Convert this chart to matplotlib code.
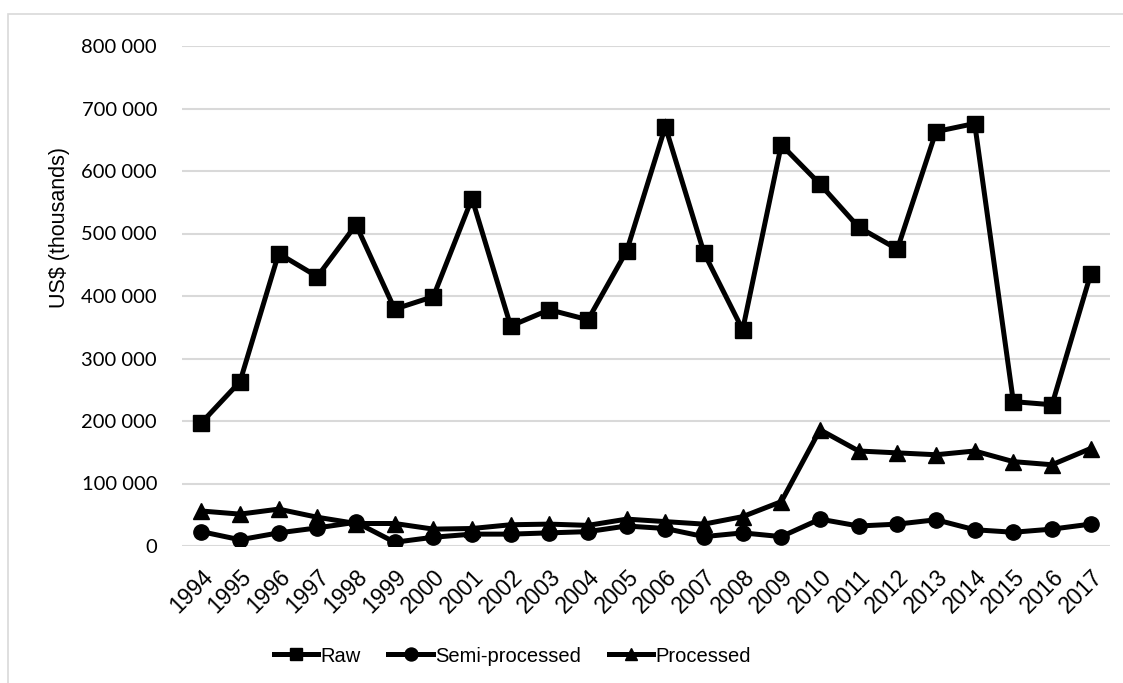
import matplotlib
matplotlib.use("Agg")
import matplotlib.pyplot as plt
from matplotlib.patches import Rectangle
from matplotlib import font_manager

years = [str(y) for y in range(1994, 2018)]
raw = [197000, 263000, 468000, 431000, 514000, 379000, 399000, 556000,
       352000, 378000, 362000, 472000, 671000, 469000, 346000, 642000,
       579000, 510000, 475000, 663000, 676000, 231000, 226000, 435000]
semi = [23000, 10000, 21000, 29000, 38000, 6000, 14000, 19000,
        19000, 21000, 23000, 32000, 28000, 15000, 21000, 15000,
        43000, 32000, 35000, 42000, 26000, 22000, 27000, 35000]
processed = [56000, 51000, 59000, 46000, 36000, 36000, 27000, 28000,
             34000, 35000, 33000, 43000, 39000, 35000, 47000, 71000,
             186000, 152000, 149000, 146000, 152000, 135000, 130000, 156000]
y_ticks = list(range(0, 800001, 100000))

names = {f.name for f in font_manager.fontManager.ttflist}
sans = "Liberation Sans"
tick_font = "Lato" if "Lato" in names else sans

fig = plt.figure(figsize=(11.23, 6.83), dpi=100)
ax = fig.add_axes([182 / 1123, 1 - 546 / 683, (1110 - 182) / 1123, (546 - 46) / 683])

# light frame around the whole chart
fig.patches.append(Rectangle((8 / 1123, -0.05), 1.2, 1 - 14 / 683 + 0.05,
                             transform=fig.transFigure, fill=False,
                             edgecolor="#d9d9d9", linewidth=1.2))

x = list(range(len(years)))
style = dict(color="black", linewidth=3.6, markersize=11, solid_joinstyle="miter")
ax.plot(x, raw, marker="s", label="Raw", **style)
ax.plot(x, semi, marker="o", label="Semi-processed", **style)
ax.plot(x, processed, marker="^", label="Processed", **style)

ax.set_xlim(-0.5, len(years) - 0.5)
ax.set_ylim(0, 800000)
ax.set_yticks(y_ticks)
ax.set_yticklabels([f"{v:,}".replace(",", " ") for v in y_ticks],
                   fontfamily=tick_font, fontsize=14.5)
ax.set_xticks(x)
ax.set_xticklabels(years, rotation=45, ha="right", va="top",
                   rotation_mode="anchor", fontfamily=sans, fontsize=16.5)
ax.tick_params(axis="both", length=0)
ax.tick_params(axis="y", pad=18)
ax.tick_params(axis="x", pad=14)
ax.grid(axis="y", color="#d9d9d9", linewidth=1.5)
ax.set_axisbelow(True)
for s in ax.spines.values():
    s.set_visible(False)

fig.text(59 / 1123, 1 - 227 / 683, "US$ (thousands)", rotation=90,
         ha="center", va="center", fontfamily=sans, fontsize=15.5)

fig.legend(loc="center", bbox_to_anchor=(0.456, 1 - 656 / 683), ncol=3,
           frameon=False, prop={"family": sans, "size": 14.5},
           handlelength=2.2, handletextpad=0.1, columnspacing=1.4,
           markerscale=0.85)

fig.savefig("out.png", dpi=100)
